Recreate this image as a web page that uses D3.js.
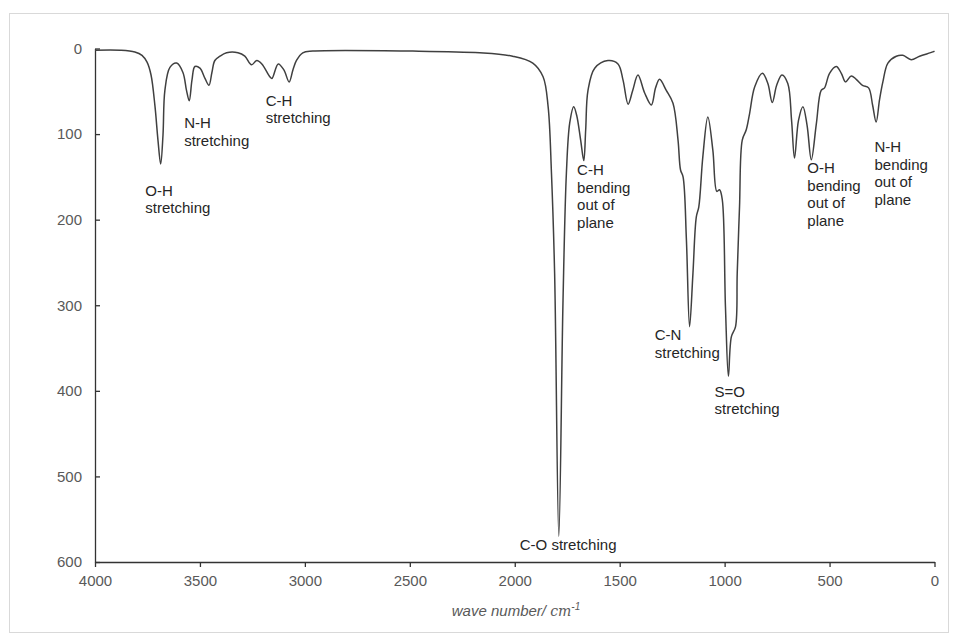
<!DOCTYPE html>
<html>
<head>
<meta charset="utf-8">
<script src="https://cdn.jsdelivr.net/npm/d3@7"></script>
<style>
    body { margin: 0; background: #fff; }
    svg { display: block; font-family: "Liberation Sans", Arial, sans-serif; }
</style>
</head>
<body>
<svg id="grafico" width="958" height="637"></svg>
<script>
/* Datos del espectro */
const waveNumbers = [4000, 3880, 3810, 3776, 3752, 3733, 3714, 3700, 3687, 3676, 3667, 3643, 3611,
    3581, 3564, 3551, 3538, 3524, 3500, 3476, 3457, 3443, 3429, 3405, 3373, 3319, 3286, 3254, 3229,
    3205, 3167, 3157, 3127, 3100, 3075, 3057, 3040, 3010, 2962, 2486, 2167, 2010, 1914, 1865, 1841,
    1825, 1810, 1790, 1770, 1754, 1738, 1719, 1705, 1686, 1671, 1662, 1651, 1619, 1556, 1508, 1484,
    1460, 1438, 1413, 1381, 1349, 1329, 1310, 1278, 1246, 1222, 1210, 1198, 1182, 1167, 1151, 1135,
    1123, 1104, 1080, 1056, 1037, 1024, 1011, 996, 982, 968, 948, 940, 929, 916, 897, 881, 857, 820,
    794, 773, 752, 727, 699, 681, 667, 648, 627, 607, 587, 563, 540, 524, 500, 468, 444, 424, 397,
    373, 343, 314, 295, 278, 262, 246, 222, 182, 151, 111, 71, 8, 0]
const intensity = [2, 2, 4, 8, 16, 31, 68, 107, 135, 101, 49, 22, 17,
    28, 49, 61, 37, 21, 23, 35, 43, 28, 14, 9, 5, 5, 9, 19, 14,
    18, 33, 35, 18, 25, 39, 25, 14, 5, 3, 3, 5, 9, 17, 33, 68,
    146, 263, 570, 294, 146, 87, 68, 78, 107, 131, 95, 49, 23, 14, 18, 37,
    65, 49, 31, 52, 66, 46, 36, 49, 64, 107, 142, 150, 224, 325, 263, 197,
    185, 127, 80, 119, 167, 165, 177, 302, 383, 337, 325, 263, 185, 107, 95, 76, 45, 29,
    41, 63, 43, 31, 41, 84, 128, 84, 68, 90, 130, 88, 49, 46, 29, 21, 29, 39, 32,
    36, 43, 46, 66, 86, 60, 39, 17, 9, 8, 13, 9, 4, 3]

/* Ejes */
const xTicks = [4000, 3500, 3000, 2500, 2000, 1500, 1000, 500, 0]
const yTicks = [0, 100, 200, 300, 400, 500, 600]

/* Etiquetas de los picos: numero de onda, valor y lineas de texto */
const labelWave = [3760, 3575, 3187, 1703, 1976, 1333, 1048, 606, 286]
const labelValue = [172, 93, 67, 148, 586, 341, 407, 146, 121]
const labelLines = [
    ['O-H', 'stretching'],
    ['N-H', 'stretching'],
    ['C-H', 'stretching'],
    ['C-H', 'bending', 'out of', 'plane'],
    ['C-O stretching'],
    ['C-N', 'stretching'],
    ['S=O', 'stretching'],
    ['O-H', 'bending', 'out of', 'plane'],
    ['N-H', 'bending', 'out of', 'plane']
]

const svg = d3.select('#grafico')

/* Marco del grafico */
svg.append('rect')
    .attr('x', 9.5).attr('y', 13.5)
    .attr('width', 939).attr('height', 619)
    .attr('fill', 'none')
    .attr('stroke', '#d9d9d9')

const x = d3.scaleLinear().domain([4000, 0]).range([95, 934.5])
const y = d3.scaleLinear().domain([0, 600]).range([48.5, 562])

/* Eje Y */
const ejeY = svg.append('g')
    .attr('transform', 'translate(95,0)')
    .call(d3.axisLeft(y).tickValues(yTicks).tickSizeInner(-5).tickSizeOuter(0).tickPadding(13))
ejeY.select('.domain').attr('stroke', '#333').attr('stroke-width', 1.3)
ejeY.selectAll('.tick line').attr('stroke', '#333').attr('stroke-width', 1.3)
ejeY.selectAll('.tick text').attr('fill', '#595959').attr('font-size', 15)
    .attr('font-family', '"Liberation Sans", Arial, sans-serif')

/* Eje X */
const ejeX = svg.append('g')
    .attr('transform', 'translate(0,562)')
    .call(d3.axisBottom(x).tickValues(xTicks).tickFormat(d3.format('d'))
        .tickSizeInner(5).tickSizeOuter(0).tickPadding(8))
ejeX.select('.domain').attr('stroke', '#333').attr('stroke-width', 1.3)
ejeX.selectAll('.tick line').attr('stroke', '#333').attr('stroke-width', 1.3)
ejeX.selectAll('.tick text').attr('fill', '#595959').attr('font-size', 15)
    .attr('font-family', '"Liberation Sans", Arial, sans-serif')

/* Titulo del eje X */
const titulo = svg.append('text')
    .attr('x', 516).attr('y', 616)
    .attr('text-anchor', 'middle')
    .attr('fill', '#595959')
    .attr('font-size', 15)
    .attr('font-style', 'italic')
titulo.append('tspan').text('wave number/ ')
titulo.append('tspan').attr('font-family', '"DejaVu Serif", serif').attr('font-size', 14).text('cm')
titulo.append('tspan').attr('font-size', 10).attr('dy', -6).text('-1')

/* Curva del espectro */
const puntos = waveNumbers.map((w, i) => [w, intensity[i]])
const linea = d3.line()
    .x(d => x(d[0]))
    .y(d => y(d[1]))
    .curve(d3.curveCatmullRom.alpha(0.5))

svg.append('path')
    .datum(puntos)
    .attr('d', linea)
    .attr('fill', 'none')
    .attr('stroke', '#404040')
    .attr('stroke-width', 1.5)
    .attr('stroke-linejoin', 'round')

/* Etiquetas */
labelLines.forEach((lineas, i) => {
    const t = svg.append('text')
        .attr('x', x(labelWave[i]))
        .attr('y', y(labelValue[i]))
        .attr('fill', '#262626')
        .attr('font-size', 15)
    lineas.forEach((l, j) => {
        t.append('tspan')
            .attr('x', x(labelWave[i]))
            .attr('dy', j == 0 ? 0 : 17.5)
            .text(l)
    })
})
</script>
</body>
</html>
